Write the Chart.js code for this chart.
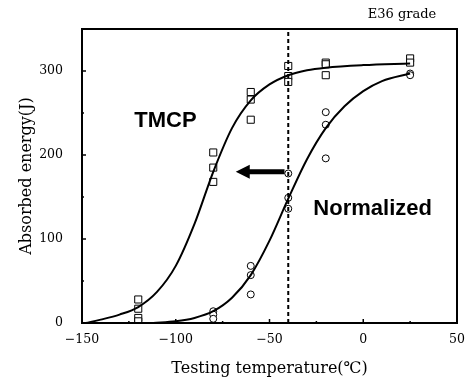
<!DOCTYPE html>
<html>
<head>
<meta charset="utf-8">
<script src="https://cdn.jsdelivr.net/npm/chart.js@4/dist/chart.umd.min.js"></script>
<style>
  body { margin: 0; background: #fff; }
  canvas { display: block; }
</style>
</head>
<body>
<canvas id="impactChart" width="467" height="378"></canvas>
<script>
// measured points (temperature C, absorbed energy J)
const tmcpT = [-120, -120, -120, -120, -80, -80, -80, -60, -60, -60, -40, -40, -40, -20, -20, -20, 25, 25];
const tmcpE = [28, 17, 6, 2, 203, 185, 168, 275, 266, 242, 306, 294, 287, 310, 308, 295, 315, 310];
const normT = [-80, -80, -80, -60, -60, -60, -40, -40, -40, -20, -20, -20, 25, 25];
const normE = [14, 10, 5, 68, 57, 34, 178, 149, 136, 251, 236, 196, 297, 295];

// fitted curves
const tmcpCurveT = [-148, -140, -130, -120, -110, -100, -90, -80, -70, -60, -50, -40, -30, -20, 0, 25];
const tmcpCurveE = [0, 4, 10, 19, 37, 68, 118, 180, 232, 265, 284, 295, 301, 304, 307, 309];
const normCurveT = [-112, -100, -90, -80, -70, -60, -50, -40, -30, -20, -10, 0, 10, 25];
const normCurveE = [0, 2, 6, 14, 30, 57, 98, 148, 195, 232, 258, 276, 288, 297];

const transitionT = -40;
const arrowY = 180, arrowFrom = -42, arrowTo = -68;

const pts = (xs, ys) => xs.map((x, i) => ({ x: x, y: ys[i] }));
const minus = v => v < 0 ? '\u2212' + Math.abs(v) : String(v);

const overlay = {
    id: 'overlay',
    afterDatasetsDraw(chart) {
        const { ctx, chartArea: a, scales: { x, y } } = chart;
        ctx.save();
        ctx.strokeStyle = '#000';
        ctx.lineWidth = 2;
        ctx.strokeRect(a.left, a.top, a.right - a.left, a.bottom - a.top);

        // inward tick marks
        ctx.lineWidth = 1.5;
        y.ticks.forEach(t => {
            const py = y.getPixelForValue(t.value);
            const len = t.value % 100 === 0 ? 4 : 2;
            ctx.beginPath(); ctx.moveTo(a.left, py); ctx.lineTo(a.left + len, py); ctx.stroke();
        });
        x.ticks.forEach(t => {
            const px = x.getPixelForValue(t.value);
            const len = t.value % 50 === 0 ? 4 : 2;
            ctx.beginPath(); ctx.moveTo(px, a.bottom); ctx.lineTo(px, a.bottom - len); ctx.stroke();
        });

        // arrow
        const ay = y.getPixelForValue(arrowY);
        const x1 = x.getPixelForValue(arrowFrom), x2 = x.getPixelForValue(arrowTo);
        ctx.lineWidth = 5;
        ctx.beginPath(); ctx.moveTo(x1, ay); ctx.lineTo(x2 + 10, ay); ctx.stroke();
        ctx.fillStyle = '#000';
        ctx.beginPath();
        ctx.moveTo(x2, ay); ctx.lineTo(x2 + 14, ay - 7); ctx.lineTo(x2 + 14, ay + 7);
        ctx.closePath(); ctx.fill();

        ctx.font = 'bold 22px "Liberation Sans", Arial, sans-serif';
        ctx.textAlign = 'center';
        ctx.textBaseline = 'middle';
        ctx.fillText('TMCP', x.getPixelForValue(-105.5), y.getPixelForValue(241));
        ctx.fillText('Normalized', x.getPixelForValue(5), y.getPixelForValue(136));

        ctx.font = '13px "DejaVu Serif", serif';
        ctx.fillText('E36 grade', 402, 15);
        ctx.restore();
    }
};

const serif = { family: '"DejaVu Serif", "Liberation Serif", serif' };

new Chart(document.getElementById('impactChart').getContext('2d'), {
    type: 'scatter',
    data: {
        datasets: [
            { data: pts(tmcpCurveT, tmcpCurveE), showLine: true, pointRadius: 0,
              borderColor: '#000', borderWidth: 2, cubicInterpolationMode: 'monotone' },
            { data: pts(normCurveT, normCurveE), showLine: true, pointRadius: 0,
              borderColor: '#000', borderWidth: 2, cubicInterpolationMode: 'monotone' },
            { data: pts([transitionT, transitionT], [0, 350]), showLine: true, pointRadius: 0,
              borderColor: '#000', borderWidth: 2, borderDash: [4, 3] },
            { data: pts(tmcpT, tmcpE), pointStyle: 'rect', pointRadius: 5,
              borderColor: '#000', backgroundColor: '#fff', borderWidth: 1 },
            { data: pts(normT, normE), pointStyle: 'circle', pointRadius: 3.5,
              borderColor: '#000', backgroundColor: '#fff', borderWidth: 1 }
        ]
    },
    options: {
        responsive: false,
        animation: false,
        layout: { padding: { left: 0, right: 10, top: 29, bottom: 0 } },
        plugins: { legend: { display: false }, tooltip: { enabled: false } },
        scales: {
            x: {
                min: -150, max: 50,
                afterFit: s => { s.height = 55; s.paddingLeft = 0; s.paddingRight = 0; },
                grid: { drawOnChartArea: false, drawTicks: false },
                border: { color: '#000', width: 2 },
                ticks: {
                    stepSize: 25, padding: 9, color: '#000', autoSkip: false, maxRotation: 0,
                    font: { ...serif, size: 12.5 },
                    callback: v => v % 50 === 0 ? minus(v) : ''
                },
                title: {
                    display: true, text: 'Testing temperature(\u2103)', color: '#000',
                    font: { ...serif, size: 16 }, padding: { top: 5, bottom: 0 }
                }
            },
            y: {
                min: 0, max: 350,
                afterFit: s => { s.width = 82; s.paddingTop = 0; s.paddingBottom = 0; },
                grid: { drawOnChartArea: false, drawTicks: false },
                border: { color: '#000', width: 2 },
                ticks: {
                    stepSize: 50, padding: 19, color: '#000', autoSkip: false,
                    font: { ...serif, size: 12.5 },
                    callback: v => (v % 100 === 0 && v <= 300) ? String(v) : ''
                },
                title: {
                    display: true, text: 'Absorbed energy(J)', color: '#000',
                    font: { ...serif, size: 16 }, padding: { top: 17, bottom: 0 }
                }
            }
        }
    },
    plugins: [overlay]
});
</script>
</body>
</html>
